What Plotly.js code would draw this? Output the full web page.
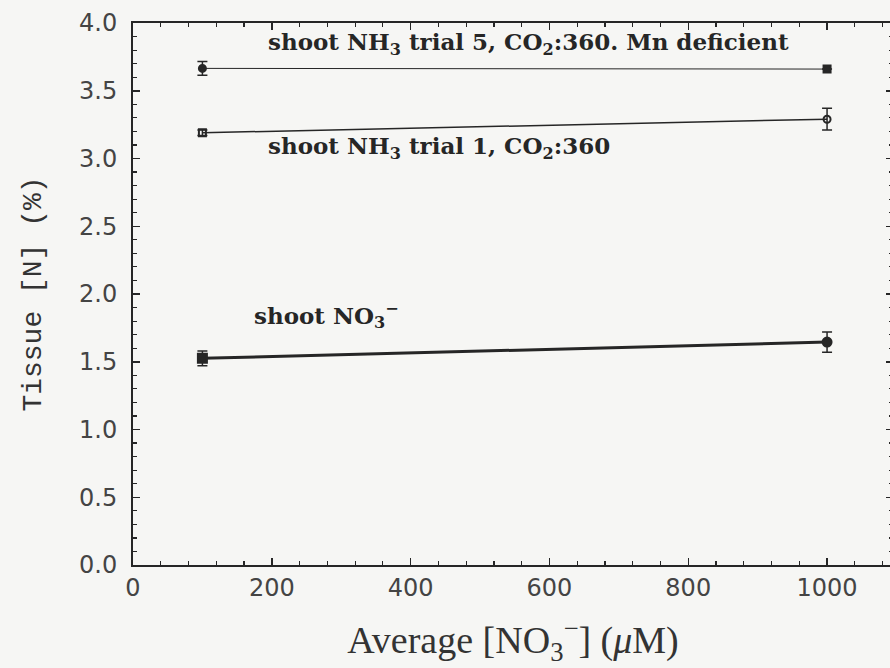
<!DOCTYPE html>
<html>
<head>
<meta charset="utf-8">
<script src="https://cdn.plot.ly/plotly-3.0.1.min.js"></script>
<style>
html,body{margin:0;padding:0;overflow:hidden;background:#f6f6f4;}
#chart{width:893px;height:668px;}
</style>
</head>
<body>
<div id="chart"></div>
<script>
// Data
const xNO3 = [100, 1000];

const trial5Y = [3.665, 3.66];
const trial5Err = [0.05, 0];
const trial5Symbols = ['circle', 'square'];

const trial1Y = [3.19, 3.29];
const trial1Err = [0.02, 0.08];
const trial1Symbols = ['square-open', 'circle-open'];

const no3Y = [1.525, 1.645];
const no3Err = [0.055, 0.075];
const no3Symbols = ['square', 'circle'];

const xTickVals = [0, 200, 400, 600, 800, 1000];
const yTickVals = [0.0, 0.5, 1.0, 1.5, 2.0, 2.5, 3.0, 3.5, 4.0];

const ink = '#262626';

function series(y, err, symbols, lw, msize) {
  return {
    x: xNO3, y: y, type: 'scatter', mode: 'lines+markers',
    line: {color: ink, width: lw},
    marker: {symbol: symbols, size: msize, color: ink, line: {color: ink, width: 2}},
    error_y: {type: 'data', array: err, visible: true, color: ink, thickness: 1.5, width: 5},
    showlegend: false, hoverinfo: 'skip'
  };
}

const data = [
  series(trial5Y, trial5Err, trial5Symbols, 1, 7),
  series(trial1Y, trial1Err, trial1Symbols, 1.5, 7),
  series(no3Y, no3Err, no3Symbols, 3, 9)
];

const annFont = {family: 'DejaVu Serif', size: 23, color: ink};
const tickFont = {family: 'DejaVu Sans', size: 24, color: '#444'};
const layout = {
  width: 893, height: 668,
  margin: {l: 133, r: 0, t: 23, b: 103},
  paper_bgcolor: '#f6f6f4', plot_bgcolor: '#f6f6f4',
  xaxis: {
    range: [0, 1095], tickvals: xTickVals, ticktext: xTickVals.map(String),
    ticks: 'inside', ticklen: 7, tickwidth: 1.5, tickcolor: ink,
    minor: {dtick: 40, tick0: 0, ticks: 'inside', ticklen: 4, tickwidth: 1.2, tickcolor: ink},
    showline: true, linecolor: ink, linewidth: 2, mirror: 'ticks',
    showgrid: false, zeroline: false,
    tickfont: tickFont,
    title: {text: 'Average [NO<sub>3</sub><sup>−</sup>] (<i>μ</i>M)', standoff: 26,
            font: {family: 'Liberation Serif', size: 38, color: '#333'}}
  },
  yaxis: {
    range: [0, 4], tickvals: yTickVals, ticktext: yTickVals.map(v => v.toFixed(1)),
    ticks: 'inside', ticklen: 7, tickwidth: 1.5, tickcolor: ink,
    minor: {dtick: 0.1, tick0: 0, ticks: 'inside', ticklen: 4, tickwidth: 1.2, tickcolor: ink},
    showline: true, linecolor: ink, linewidth: 2, mirror: 'ticks',
    showgrid: false, zeroline: false,
    tickfont: tickFont, ticklabelstandoff: 9,
    title: {text: 'Tissue [N] (%)', standoff: 29,
            font: {family: 'Liberation Mono', size: 28, color: '#333'}}
  },
  annotations: [
    {x: 191, y: 3.85, xref: 'x', yref: 'y', xanchor: 'left', yanchor: 'middle', showarrow: false,
     text: '<b>shoot NH<sub>3</sub> trial 5, CO<sub>2</sub>:360. Mn deficient</b>', font: annFont},
    {x: 191, y: 3.08, xref: 'x', yref: 'y', xanchor: 'left', yanchor: 'middle', showarrow: false,
     text: '<b>shoot NH<sub>3</sub> trial 1, CO<sub>2</sub>:360</b>', font: annFont},
    {x: 171, y: 1.84, xref: 'x', yref: 'y', xanchor: 'left', yanchor: 'middle', showarrow: false,
     text: '<b>shoot NO<sub>3</sub><sup>−</sup></b>', font: annFont}
  ]
};

Plotly.newPlot('chart', data, layout, {staticPlot: true, displayModeBar: false});
</script>
</body>
</html>
